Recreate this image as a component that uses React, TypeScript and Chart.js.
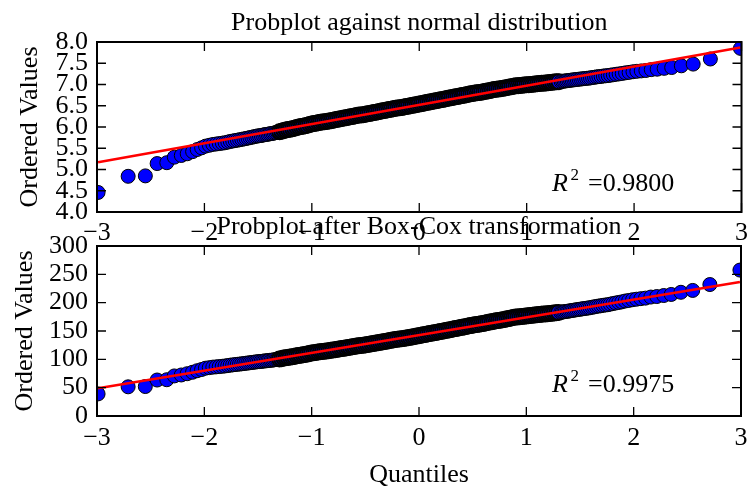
import React, { useEffect, useRef } from "react";
import { Chart, registerables } from "chart.js";

Chart.register(...registerables);

const FONT = "'Liberation Serif', 'Times New Roman', Times, serif";

// ---- Theoretical quantiles (x) ----
const leftTailQ = [-2.99, -2.71, -2.55, -2.44, -2.35, -2.28, -2.215, -2.16, -2.11, -2.067, -2.026];
const leftEdgeQ = [-1.99, -1.954, -1.921, -1.89, -1.861, -1.833, -1.807, -1.782, -1.759, -1.736, -1.714, -1.693, -1.672, -1.652, -1.632, -1.613, -1.594, -1.576, -1.558, -1.54, -1.522, -1.505, -1.488, -1.471, -1.455, -1.439, -1.423, -1.408, -1.393, -1.378, -1.363, -1.349, -1.335, -1.321];
const bandQ = [
  -1.3, -1.28, -1.26, -1.24, -1.22, -1.2, -1.18, -1.16, -1.14, -1.12, -1.1, -1.08, -1.06, -1.04, -1.02, -1.0, -0.98, -0.96, -0.94, -0.92, -0.9,
  -0.88, -0.86, -0.84, -0.82, -0.8, -0.78, -0.76, -0.74, -0.72, -0.7, -0.68, -0.66, -0.64, -0.62, -0.6, -0.58, -0.56, -0.54, -0.52, -0.5,
  -0.48, -0.46, -0.44, -0.42, -0.4, -0.38, -0.36, -0.34, -0.32, -0.3, -0.28, -0.26, -0.24, -0.22, -0.2, -0.18, -0.16, -0.14, -0.12, -0.1,
  -0.08, -0.06, -0.04, -0.02, 0.0, 0.02, 0.04, 0.06, 0.08, 0.1, 0.12, 0.14, 0.16, 0.18, 0.2, 0.22, 0.24, 0.26, 0.28, 0.3,
  0.32, 0.34, 0.36, 0.38, 0.4, 0.42, 0.44, 0.46, 0.48, 0.5, 0.52, 0.54, 0.56, 0.58, 0.6, 0.62, 0.64, 0.66, 0.68, 0.7,
  0.72, 0.74, 0.76, 0.78, 0.8, 0.82, 0.84, 0.86, 0.88, 0.9, 0.92, 0.94, 0.96, 0.98, 1.0, 1.02, 1.04, 1.06, 1.08, 1.1,
  1.12, 1.14, 1.16, 1.18, 1.2, 1.22, 1.24, 1.26, 1.28, 1.3,
];
const rightEdgeQ = [1.321, 1.335, 1.349, 1.363, 1.378, 1.393, 1.408, 1.423, 1.439, 1.455, 1.471, 1.488, 1.505, 1.522, 1.54, 1.558, 1.576, 1.594, 1.613, 1.632, 1.652, 1.672, 1.693, 1.714, 1.736, 1.759, 1.782, 1.807, 1.833, 1.861, 1.89, 1.921, 1.954, 1.99];
const rightTailQ = [2.026, 2.067, 2.11, 2.16, 2.215, 2.28, 2.35, 2.44, 2.55, 2.71, 2.99];

// ---- Ordered values, original data (top panel) ----
const leftTailRaw = [4.46, 4.84, 4.85, 5.14, 5.16, 5.29, 5.33, 5.37, 5.42, 5.47, 5.51];
const leftEdgeRaw = [5.55, 5.57, 5.59, 5.6, 5.61, 5.62, 5.63, 5.645, 5.66, 5.67, 5.68, 5.69, 5.7, 5.71, 5.72, 5.73, 5.74, 5.75, 5.76, 5.77, 5.78, 5.79, 5.795, 5.8, 5.81, 5.82, 5.825, 5.83, 5.84, 5.845, 5.85, 5.86, 5.87, 5.88];
const bandRaw = [
  5.89, 5.9, 5.92, 5.93, 5.94, 5.95, 5.96, 5.97, 5.99, 6.0, 6.01, 6.02, 6.03, 6.04, 6.06, 6.07, 6.08, 6.09, 6.1, 6.11, 6.12,
  6.125, 6.13, 6.14, 6.15, 6.16, 6.17, 6.18, 6.19, 6.2, 6.21, 6.22, 6.23, 6.24, 6.25, 6.26, 6.27, 6.28, 6.285, 6.29, 6.3,
  6.31, 6.32, 6.33, 6.34, 6.35, 6.36, 6.37, 6.38, 6.39, 6.4, 6.41, 6.42, 6.43, 6.44, 6.45, 6.455, 6.46, 6.47, 6.48, 6.49,
  6.5, 6.51, 6.52, 6.53, 6.54, 6.55, 6.56, 6.57, 6.58, 6.59, 6.6, 6.61, 6.62, 6.63, 6.64, 6.65, 6.66, 6.67, 6.68, 6.69,
  6.7, 6.71, 6.72, 6.73, 6.74, 6.75, 6.76, 6.77, 6.78, 6.79, 6.8, 6.805, 6.81, 6.82, 6.83, 6.84, 6.85, 6.86, 6.87, 6.88,
  6.89, 6.895, 6.9, 6.91, 6.92, 6.93, 6.94, 6.95, 6.96, 6.97, 6.972, 6.977, 6.982, 6.987, 6.992, 6.997, 7.002, 7.007, 7.012, 7.017,
  7.022, 7.027, 7.032, 7.037, 7.042, 7.047, 7.052, 7.057, 7.062, 7.067,
];
const rightEdgeRaw = [7.07, 7.075, 7.08, 7.085, 7.09, 7.095, 7.1, 7.105, 7.11, 7.115, 7.12, 7.125, 7.13, 7.135, 7.14, 7.145, 7.15, 7.155, 7.165, 7.17, 7.18, 7.185, 7.19, 7.2, 7.205, 7.21, 7.22, 7.23, 7.24, 7.25, 7.26, 7.275, 7.285, 7.3];
const rightTailRaw = [7.31, 7.32, 7.33, 7.35, 7.36, 7.38, 7.4, 7.44, 7.48, 7.6, 7.85];

// ---- Ordered values after Box-Cox (bottom panel) ----
const leftTailBoxCox = [39, 51.5, 52, 63.5, 64, 70.7, 72.4, 74.6, 77.2, 79.9, 82.0];
const leftEdgeBoxCox = [84.3, 85.3, 86.2, 86.7, 87.2, 87.7, 88.3, 89.0, 89.7, 90.2, 90.7, 91.2, 91.6, 92.1, 92.5, 93.1, 93.5, 94.0, 94.4, 94.9, 95.3, 95.8, 96.0, 96.3, 96.7, 97.2, 97.4, 97.7, 98.2, 98.4, 98.7, 99.2, 99.6, 100.1];
const bandBoxCox = [
  100.5, 101.1, 102.2, 102.8, 103.3, 103.9, 104.5, 105.1, 106.2, 106.8, 107.4, 108.0, 108.6, 109.2, 110.4, 111.0, 111.6, 112.2, 112.8, 113.4, 114.0,
  114.3, 114.6, 115.2, 115.9, 116.5, 117.1, 117.7, 118.3, 118.9, 119.6, 120.2, 120.9, 121.5, 122.2, 122.8, 123.5, 124.1, 124.4, 124.8, 125.4,
  126.1, 126.8, 127.4, 128.1, 128.8, 129.4, 130.1, 130.8, 131.4, 132.1, 132.8, 133.5, 134.1, 134.8, 135.5, 135.8, 136.2, 136.9, 137.5, 138.2,
  138.9, 139.6, 140.3, 141.0, 141.8, 142.5, 143.2, 143.9, 144.6, 145.4, 146.1, 146.8, 147.5, 148.3, 149.0, 149.7, 150.5, 151.2, 151.9, 152.7,
  153.4, 154.2, 154.9, 155.7, 156.4, 157.2, 158.0, 158.7, 159.5, 160.2, 161.0, 161.4, 161.8, 162.6, 163.4, 164.2, 165.0, 165.7, 166.5, 167.3,
  168.1, 168.5, 168.9, 169.7, 170.5, 171.4, 172.2, 173.0, 173.8, 174.6, 174.8, 175.2, 175.6, 176.0, 176.4, 176.9, 177.3, 177.7, 178.1, 178.5,
  178.9, 179.4, 179.8, 180.2, 180.6, 181.1, 181.5, 181.9, 182.3, 182.7,
];
const rightEdgeBoxCox = [183.0, 183.4, 183.9, 184.3, 184.7, 185.1, 185.6, 186.1, 186.6, 187.1, 187.6, 188.1, 188.6, 189.1, 189.6, 190.1, 190.6, 191.1, 192.0, 192.5, 193.4, 194.0, 194.5, 195.3, 195.9, 196.4, 197.4, 198.4, 199.4, 200.4, 201.4, 202.9, 203.9, 205.2];
const rightTailBoxCox = [206.1, 207.1, 208.0, 209.9, 210.8, 212.6, 214.5, 218.3, 221.6, 232.0, 257.5];

// ---- Least-squares fit lines (endpoints at the extreme quantiles) ----
const fitQ = [-2.99, 2.99];
const fitRaw = [5.17, 7.87];
const fitBoxCox = [49.1, 236.3];

// ---- Axis ticks ----
const xTicks = [-3, -2, -1, 0, 1, 2, 3];
const yTicksRaw = [4.0, 4.5, 5.0, 5.5, 6.0, 6.5, 7.0, 7.5, 8.0];
const yTicksBoxCox = [0, 50, 100, 150, 200, 250, 300];

const titles = ["Probplot against normal distribution", "Probplot after Box-Cox transformation"];
const r2Values = ["0.9800", "0.9975"];

const allQ = [...leftTailQ, ...leftEdgeQ, ...bandQ, ...rightEdgeQ, ...rightTailQ];
const allRaw = [...leftTailRaw, ...leftEdgeRaw, ...bandRaw, ...rightEdgeRaw, ...rightTailRaw];
const allBoxCox = [...leftTailBoxCox, ...leftEdgeBoxCox, ...bandBoxCox, ...rightEdgeBoxCox, ...rightTailBoxCox];

function zip(xs: number[], ys: number[]) {
  const n = Math.min(xs.length, ys.length);
  const out: { x: number; y: number }[] = [];
  for (let i = 0; i < n; i++) out.push({ x: xs[i], y: ys[i] });
  return out;
}

const fmtX = (v: number) => (v < 0 ? "\u2212" + Math.abs(v) : String(v));

type PanelCfg = {
  title: string;
  r2: string;
  values: number[];
  fit: number[];
  yTicks: number[];
  yFmt: (v: number) => string;
  top: number;
  bottom: number;
  xPad: number;
  yLabelBaselineX: number;
  r2Baseline: number;
  showXLabel: boolean;
};

const W = 754;
const H = 489;
const LEFT = 97;
const RIGHT = 749;

const isBand = (c: any) => c.raw && Math.abs(c.raw.x) <= 1.305;

function makePlugin(cfg: PanelCfg) {
  return {
    id: "mplFrame",
    afterLayout(chart: any) {
      // let tick labels draw outside the zero-size scale boxes
      chart.scales.y.left = 0;
      chart.scales.x.bottom = H;
    },
    afterDatasetsDraw(chart: any) {
      const { ctx, chartArea: a, scales } = chart;
      const TL = 9;
      ctx.save();
      ctx.strokeStyle = "#000";
      ctx.lineWidth = 1.3;
      ctx.beginPath();
      for (const t of xTicks) {
        const px = scales.x.getPixelForValue(t);
        ctx.moveTo(px, a.bottom);
        ctx.lineTo(px, a.bottom - TL);
        ctx.moveTo(px, a.top);
        ctx.lineTo(px, a.top + TL);
      }
      for (const t of cfg.yTicks) {
        const py = scales.y.getPixelForValue(t);
        ctx.moveTo(a.left, py);
        ctx.lineTo(a.left + TL, py);
        ctx.moveTo(a.right, py);
        ctx.lineTo(a.right - TL, py);
      }
      ctx.stroke();
      ctx.lineWidth = 2;
      ctx.strokeRect(a.left, a.top, a.right - a.left, a.bottom - a.top);
      ctx.restore();
    },
    afterDraw(chart: any) {
      const { ctx, chartArea: a } = chart;
      const cx = (a.left + a.right) / 2;
      ctx.save();
      ctx.fillStyle = "#000";
      ctx.textBaseline = "alphabetic";
      ctx.font = `26px ${FONT}`;
      ctx.textAlign = "center";
      ctx.fillText(cfg.title, cx, a.top - 12.5);
      ctx.save();
      ctx.translate(cfg.yLabelBaselineX, (a.top + a.bottom) / 2);
      ctx.rotate(-Math.PI / 2);
      ctx.textAlign = "center";
      ctx.fillText("Ordered Values", 0, 0);
      ctx.restore();
      if (cfg.showXLabel) {
        ctx.textAlign = "center";
        ctx.fillText("Quantiles", cx, a.bottom + 65.5);
      }
      const x0 = a.left + 455;
      const yb = cfg.r2Baseline;
      ctx.textAlign = "left";
      ctx.font = `italic 26px ${FONT}`;
      ctx.fillText("R", x0, yb);
      ctx.font = `17px ${FONT}`;
      ctx.fillText("2", x0 + 18.5, yb - 11.5);
      ctx.font = `26px ${FONT}`;
      ctx.fillText("=" + cfg.r2, x0 + 36, yb);
      ctx.restore();
    },
  };
}

function Panel({ cfg }: { cfg: PanelCfg }) {
  const ref = useRef<HTMLCanvasElement>(null);
  useEffect(() => {
    if (!ref.current) return;
    const tickFont = { family: FONT, size: 26 };
    const chart = new Chart(ref.current, {
      type: "scatter",
      data: {
        datasets: [
          {
            data: zip(fitQ, cfg.fit),
            showLine: true,
            borderColor: "#ff0000",
            borderWidth: 2.5,
            pointRadius: 0,
            order: 0,
            clip: 0,
          } as any,
          {
            data: zip(allQ, cfg.values),
            backgroundColor: "#0000ff",
            borderColor: "#000000",
            borderWidth: (c: any) => (isBand(c) ? 2 : 1),
            pointRadius: (c: any) => (isBand(c) ? 7.5 : 7),
            order: 1,
            clip: 0,
          } as any,
        ],
      },
      options: {
        responsive: false,
        animation: false,
        devicePixelRatio: 1,
        events: [],
        layout: {
          autoPadding: false,
          padding: { left: LEFT, right: W - RIGHT, top: cfg.top, bottom: H - cfg.bottom },
        },
        plugins: {
          legend: { display: false },
          tooltip: { enabled: false },
          title: { display: false },
        },
        scales: {
          x: {
            type: "linear",
            min: -3,
            max: 3,
            afterFit: (s: any) => {
              s.height = 0;
            },
            afterBuildTicks: (s: any) => {
              s.ticks = xTicks.map((v) => ({ value: v }));
            },
            grid: { display: false, drawTicks: false },
            border: { display: false },
            ticks: {
              autoSkip: false,
              maxRotation: 0,
              minRotation: 0,
              padding: cfg.xPad,
              color: "#000",
              font: tickFont,
              callback: (v: any) => fmtX(Number(v)),
            },
          },
          y: {
            type: "linear",
            min: cfg.yTicks[0],
            max: cfg.yTicks[cfg.yTicks.length - 1],
            afterFit: (s: any) => {
              s.width = 0;
            },
            afterBuildTicks: (s: any) => {
              s.ticks = cfg.yTicks.map((v) => ({ value: v }));
            },
            grid: { display: false, drawTicks: false },
            border: { display: false },
            ticks: {
              autoSkip: false,
              padding: 9,
              color: "#000",
              font: tickFont,
              callback: (v: any) => cfg.yFmt(Number(v)),
            },
          },
        },
      } as any,
      plugins: [makePlugin(cfg) as any],
    });
    return () => chart.destroy();
  }, [cfg]);
  return (
    <canvas
      ref={ref}
      width={W}
      height={H}
      style={{ position: "absolute", left: 0, top: 0, width: W, height: H }}
    />
  );
}

const topCfg: PanelCfg = {
  title: titles[0],
  r2: r2Values[0],
  values: allRaw,
  fit: fitRaw,
  yTicks: yTicksRaw,
  yFmt: (v) => v.toFixed(1),
  top: 42,
  bottom: 212,
  xPad: 6,
  yLabelBaselineX: 37,
  r2Baseline: 191,
  showXLabel: false,
};

const bottomCfg: PanelCfg = {
  title: titles[1],
  r2: r2Values[1],
  values: allBoxCox,
  fit: fitBoxCox,
  yTicks: yTicksBoxCox,
  yFmt: (v) => String(v),
  top: 246,
  bottom: 416,
  xPad: 6.5,
  yLabelBaselineX: 32,
  r2Baseline: 392,
  showXLabel: true,
};

export default function App() {
  return (
    <div style={{ position: "fixed", left: 0, top: 0, width: W, height: H, background: "#fff" }}>
      <Panel cfg={topCfg} />
      <Panel cfg={bottomCfg} />
    </div>
  );
}
